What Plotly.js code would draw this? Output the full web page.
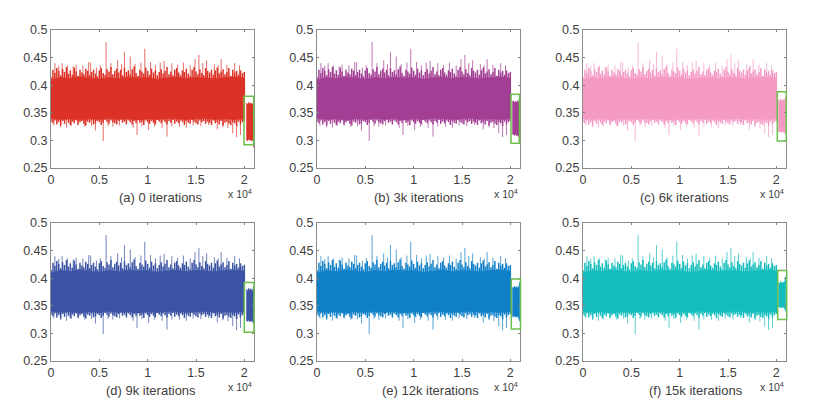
<!DOCTYPE html>
<html>
<head>
<meta charset="utf-8">
<script src="https://cdn.plot.ly/plotly-3.0.1.min.js"></script>
<style>
html, body { margin: 0; padding: 0; background: #fff; }
#chart_div { width: 814px; height: 413px; }
</style>
</head>
<body>
<div id="chart_div"></div>
<script>
// sample spacing of the whisker values below
var sampleStep = 200;

// tips of the signal, every 200 samples (same shape in all panels)
var upper = [.415,.428,.422,.431,.426,.418,.429,.424,.433,.421,.427,.419,.432,.425,.417,.428,.423,.420,.430,.426,
    .418,.424,.428,.421,.416,.427,.431,.422,.419,.429,.425,.433,.420,.426,.430,.423,.428,.418,.431,.424,
    .427,.420,.429,.434,.422,.417,.428,.425,.421,.432,.426,.419,.430,.423,.427,.418,.424,.429,.421,.426,
    .433,.420,.425,.418,.428,.431,.423,.419,.427,.424,.430,.421,.416,.428,.433,.425,.420,.429,.422,.418,
    .431,.426,.423,.428,.419,.427,.432,.421,.425,.429,.420,.424,.431,.417,.428,.423,.426,.419,.427,.422,.424];
var lower = [.334,.331,.336,.329,.333,.327,.335,.330,.337,.332,.328,.334,.331,.336,.329,.333,.335,.330,.327,.334,
    .332,.336,.329,.331,.335,.333,.328,.332,.337,.334,.330,.336,.333,.331,.329,.335,.338,.332,.334,.330,
    .336,.333,.329,.335,.331,.337,.332,.334,.328,.336,.333,.330,.335,.332,.329,.337,.334,.331,.336,.333,
    .329,.335,.332,.337,.330,.334,.331,.336,.333,.328,.335,.332,.330,.337,.334,.331,.329,.336,.333,.335,
    .330,.334,.332,.328,.336,.331,.333,.329,.335,.327,.332,.334,.330,.328,.333,.331,.326,.334,.329,.333,.335];

// solid part of the signal, every 1000 samples
var coreX = [0,1000,2000,3000,4000,5000,6000,7000,8000,9000,10000,11000,12000,13000,14000,15000,16000,17000,18000,19000,20000];
var coreTop = [.410,.414,.412,.415,.413,.411,.414,.412,.415,.413,.414,.411,.413,.415,.412,.414,.413,.412,.414,.415,.413];
var coreBottom = [.340,.338,.339,.337,.339,.338,.340,.338,.339,.337,.339,.338,.340,.339,.338,.339,.340,.338,.339,.338,.339];

// tall spikes above and below the band
var spikeHighX = [400,800,1150,1700,2300,2600,3300,3900,4100,4700,5100,5700,6200,6900,7300,7600,8200,8700,9300,9700,10300,10800,11300,11700,12500,13100,13700,14400,14900,15300,15700,16100,16900,17300,17600,18200,19000,19500];
var spikeHighY = [.440,.435,.440,.436,.434,.437,.436,.442,.441,.432,.436,.478,.440,.445,.438,.460,.452,.438,.441,.466,.442,.436,.441,.444,.440,.437,.441,.436,.447,.455,.440,.445,.438,.436,.447,.437,.440,.436];
var spikeLowX = [300,1000,1600,2100,2800,3500,4200,4600,5400,5900,6400,7100,7800,8500,8900,9400,10100,10700,11500,12000,12500,13300,14000,14700,15500,16300,17200,17800,18300,18800,19200,19600];
var spikeLowY = [.327,.324,.323,.326,.327,.325,.326,.318,.299,.326,.325,.327,.328,.323,.310,.326,.319,.325,.323,.307,.325,.325,.323,.327,.326,.328,.320,.324,.322,.313,.306,.310];

// the isolated stretch at the right end, one list per panel
var tailX = [20200,20320,20440,20560,20680,20800,20900,20980];
var tailHigh = [
    [.368,.364,.369,.366,.368,.365,.367,.373],
    [.370,.372,.368,.371,.369,.372,.370,.378],
    [.374,.370,.375,.371,.374,.372,.375,.380],
    [.380,.376,.382,.378,.381,.377,.380,.386],
    [.384,.381,.386,.382,.385,.382,.386,.393],
    [.392,.390,.394,.391,.393,.392,.396,.404]
];
var tailLow = [
    [.302,.299,.303,.300,.301,.299,.302,.287],
    [.312,.310,.309,.311,.308,.310,.307,.300],
    [.316,.315,.317,.314,.316,.315,.313,.312],
    [.323,.322,.324,.321,.323,.322,.320,.318],
    [.331,.330,.332,.329,.331,.330,.328,.322],
    [.349,.347,.348,.346,.348,.347,.345,.340]
];

var colors = ["#dc3126","#a23e93","#f59ac3","#3a53a4","#0f80c8","#14bdbd"];
var captions = ["(a) 0 iterations","(b) 3k iterations","(c) 6k iterations","(d) 9k iterations","(e) 12k iterations","(f) 15k iterations"];
var captionLeft = [117,372,638,104,380,647];

// green box around the tail
var boxLeft = [244,511,777.3,244.3,511.3,777.7];
var boxRight = [253.7,519.5,786.3,254,520.5,786.7];
var boxTop = [.380,.3835,.388,.392,.3986,.414];
var boxBottom = [.292,.295,.299,.302,.308,.325];

var xTicks = [0,5000,10000,15000,20000];
var xLabels = ["0","0.5","1","1.5","2"];
var yTicks = [.25,.3,.35,.4,.45,.5];
var yLabels = ["0.25","0.3","0.35","0.4","0.45","0.5"];

var W = 814, H = 413;
var panelLeft = [51,317,583], panelWidth = 203;
var panelTop = [30,223], panelHeight = 138;

// closed outline from a top and a bottom edge, for fill: "toself"
function outline(hi, lo, xs) {
    var x = xs.slice(), y = hi.slice();
    for (var i = xs.length - 1; i >= 0; i--) {
        x.push(xs[i]);
        y.push(lo[i]);
    }
    return {x: x, y: y};
}

// value on the y axis to paper position, so the box is not clipped at the plot edge
function paperY(v, top) {
    return 1 - (top + (.5 - v) / .25 * panelHeight) / H;
}

function drawChart() {
    var core = outline(coreTop, coreBottom, coreX);

    var whiskX = [], whiskY = [];
    for (var i = 0; i < upper.length; i++) {
        whiskX.push(i * sampleStep, i * sampleStep, null);
        whiskY.push(upper[i], lower[i], null);
    }

    var spikeX = [], spikeY = [];
    for (i = 0; i < spikeHighX.length; i++) {
        spikeX.push(spikeHighX[i], spikeHighX[i], null);
        spikeY.push(.39, spikeHighY[i], null);
    }
    for (i = 0; i < spikeLowX.length; i++) {
        spikeX.push(spikeLowX[i], spikeLowX[i], null);
        spikeY.push(.36, spikeLowY[i], null);
    }

    var data = [], shapes = [], annotations = [];
    var layout = {
        width: W, height: H,
        margin: {l: 0, r: 0, t: 0, b: 0},
        paper_bgcolor: "#fff",
        plot_bgcolor: "#fff",
        showlegend: false,
        font: {family: "Liberation Sans, Arial, sans-serif", size: 12.5, color: "#404040"}
    };

    for (var p = 0; p < 6; p++) {
        var col = p % 3, row = Math.floor(p / 3);
        var n = p === 0 ? "" : String(p + 1);
        var xa = "x" + n, ya = "y" + n;
        var left = panelLeft[col], top = panelTop[row];
        var tail = outline(tailHigh[p], tailLow[p], tailX);

        data.push({x: spikeX, y: spikeY, xaxis: xa, yaxis: ya, type: "scatter", mode: "lines",
            line: {color: colors[p], width: 1}, opacity: 0.7, hoverinfo: "skip"});
        data.push({x: whiskX, y: whiskY, xaxis: xa, yaxis: ya, type: "scatter", mode: "lines",
            line: {color: colors[p], width: 1.5}, hoverinfo: "skip"});
        data.push({x: core.x, y: core.y, xaxis: xa, yaxis: ya, type: "scatter", mode: "lines",
            fill: "toself", fillcolor: colors[p],
            line: {color: colors[p], width: 0.6}, hoverinfo: "skip"});
        data.push({x: tail.x, y: tail.y, xaxis: xa, yaxis: ya, type: "scatter", mode: "lines",
            fill: "toself", fillcolor: colors[p],
            line: {color: colors[p], width: 0.6}, hoverinfo: "skip"});

        layout["xaxis" + n] = {
            domain: [left / W, (left + panelWidth) / W], anchor: ya, range: [0, 21000],
            tickmode: "array", tickvals: xTicks, ticktext: xLabels,
            ticks: "inside", ticklen: 2, tickcolor: "#808080", tickfont: {size: 12.5, color: "#404040"},
            showgrid: false, zeroline: false, showline: true, linecolor: "#8c8c8c", linewidth: 1, mirror: "ticks"
        };
        layout["yaxis" + n] = {
            domain: [1 - (top + panelHeight) / H, 1 - top / H], anchor: xa, range: [.25, .5],
            tickmode: "array", tickvals: yTicks, ticktext: yLabels,
            ticks: "inside", ticklen: 2, tickcolor: "#808080", tickfont: {size: 12.5, color: "#404040"},
            showgrid: false, zeroline: false, showline: true, linecolor: "#8c8c8c", linewidth: 1, mirror: "ticks"
        };

        shapes.push({type: "rect", xref: "paper", yref: "paper",
            x0: boxLeft[p] / W, x1: boxRight[p] / W, y0: paperY(boxBottom[p], top), y1: paperY(boxTop[p], top),
            line: {color: "#6cbf4b", width: 1.5}, fillcolor: "rgba(0,0,0,0)"});

        annotations.push({xref: "paper", yref: "paper", x: captionLeft[p] / W, y: 1 - (top + 167.5) / H,
            xanchor: "left", yanchor: "middle", showarrow: false, text: captions[p],
            font: {size: 13, color: "#404040"}});
        annotations.push({xref: "paper", yref: "paper", x: (left + panelWidth) / W, y: 1 - (top + 163) / H,
            xanchor: "right", yanchor: "middle", showarrow: false, text: "x 10<sup>4</sup>",
            font: {size: 10.5, color: "#404040"}});
    }

    layout.shapes = shapes;
    layout.annotations = annotations;
    Plotly.newPlot("chart_div", data, layout, {displayModeBar: false, staticPlot: true});
}

drawChart();
</script>
</body>
</html>
